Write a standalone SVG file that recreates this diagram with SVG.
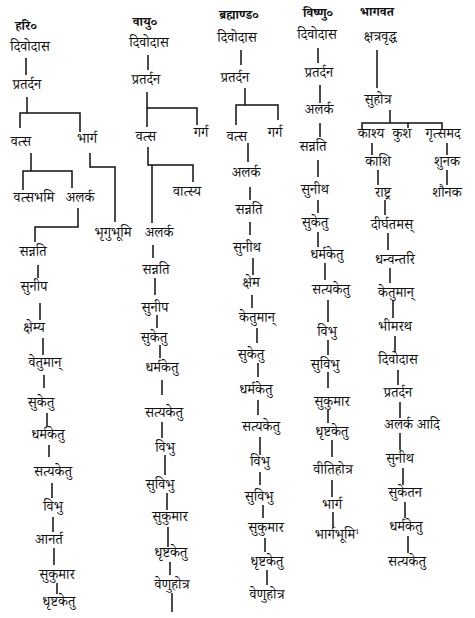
<svg xmlns="http://www.w3.org/2000/svg" width="475" height="618" viewBox="0 0 475 618">
<style>
text{font-family:"Noto Serif Devanagari","Noto Sans Devanagari","Lohit Devanagari","Noto Sans","DejaVu Sans",serif;font-size:14px;fill:#111;text-anchor:middle}
.h{font-size:13px;font-weight:bold}
#conn path{stroke:#111;stroke-width:1.5;fill:none}
</style>
<rect width="475" height="618" fill="#fff"/>
<g id="conn">
<path d="M26 58V75M27 97V113M20 128V113H80V132M31 153V171M23 190V171H72V188M90 153V167H115V222M78 208V227H35V242M38 265V278M40 303V320M43 338V355M44 375V388M47 413V427M49 445V457M52 483V498M53 517V532M54 548V565M57 583V594"/>
<path d="M148 55V70M147 92V108M147 127V108H197V125M148 147V165H193V182M152 165V223M153 245V258M155 278V295M157 315V328M160 345V358M162 380V395M162 422V438M165 455V475M167 493V510M168 527V547M170 562V575M172 593V612"/>
<path d="M241 50V65M245 88V105M236 125V105H278V120M248 143V162M250 187V200M250 222V235M253 258V275M252 295V308M257 328V343M258 363V377M258 400V415M260 437V455M260 472V485M263 505V518M265 538V552M267 570V585"/>
<path d="M318 48V63M320 85V103M320 123V137M318 160V177M318 200V213M318 232V247M325 263V280M328 300V322M328 340V355M328 372V388M328 410V423M332 440V457M332 480V497M333 512V527"/>
<path d="M377 50V88M390 110V123M362 130V123H442V130M408 123V128M372 143V155M447 143V155M378 170V185M447 170V185M385 200V215M388 233V250M390 268V283M393 300V318M395 336V352M398 370V385M400 402V418M400 433V450M403 468V485M405 502V518M408 536V553"/>
</g>
<g id="c1">
<g id="n1_0"><text class="h" x="26" y="30">हरि०</text></g>
<g id="n1_1"><text x="30" y="51">दिवोदास</text></g>
<g id="n1_2"><text x="27" y="89">प्रतर्दन</text></g>
<g id="n1_3"><text x="21" y="146">वत्स</text></g>
<g id="n1_4"><text x="87" y="143">भार्ग</text></g>
<g id="n1_5"><text x="34" y="202">वत्सभमि</text></g>
<g id="n1_6"><text x="80" y="202">अलर्क</text></g>
<g id="n1_7"><text x="113" y="237">भृगुभूमि</text></g>
<g id="n1_8"><text x="33" y="256">सन्नति</text></g>
<g id="n1_9"><text x="34" y="291">सुनीप</text></g>
<g id="n1_10"><text x="34" y="332">क्षेम्य</text></g>
<g id="n1_11"><text x="45" y="367">वेतुमान्</text></g>
<g id="n1_12"><text x="41" y="407">सुकेतु</text></g>
<g id="n1_13"><text x="48" y="439">धर्मकेतु</text></g>
<g id="n1_14"><text x="53" y="476">सत्यकेतु</text></g>
<g id="n1_15"><text x="53" y="511">विभु</text></g>
<g id="n1_16"><text x="49" y="544">आनर्त</text></g>
<g id="n1_17"><text x="57" y="579">सुकुमार</text></g>
<g id="n1_18"><text x="59" y="606">धृष्टकेतु</text></g>
</g>
<g id="c2">
<g id="n2_0"><text class="h" x="145" y="26">वायु०</text></g>
<g id="n2_1"><text x="149" y="47">दिवोदास</text></g>
<g id="n2_2"><text x="146" y="84">प्रतर्दन</text></g>
<g id="n2_3"><text x="146" y="141">वत्स</text></g>
<g id="n2_4"><text x="201" y="137">गर्ग</text></g>
<g id="n2_5"><text x="187" y="196">वात्स्य</text></g>
<g id="n2_6"><text x="159" y="237">अलर्क</text></g>
<g id="n2_7"><text x="156" y="274">सन्नति</text></g>
<g id="n2_8"><text x="155" y="312">सुनीप</text></g>
<g id="n2_9"><text x="154" y="342">सुकेतु</text></g>
<g id="n2_10"><text x="162" y="372">धर्मकेतु</text></g>
<g id="n2_11"><text x="164" y="417">सत्यकेतु</text></g>
<g id="n2_12"><text x="165" y="452">विभु</text></g>
<g id="n2_13"><text x="160" y="489">सुविभु</text></g>
<g id="n2_14"><text x="170" y="521">सुकुमार</text></g>
<g id="n2_15"><text x="171" y="557">धृष्टकेतु</text></g>
<g id="n2_16"><text x="172" y="589">वेणुहोत्र</text></g>
</g>
<g id="c3">
<g id="n3_0"><text class="h" x="239" y="19">ब्रह्माण्ड०</text></g>
<g id="n3_1"><text x="237" y="42">दिवोदास</text></g>
<g id="n3_2"><text x="235" y="82">प्रतर्दन</text></g>
<g id="n3_3"><text x="237" y="141">वत्स</text></g>
<g id="n3_4"><text x="275" y="137">गर्ग</text></g>
<g id="n3_5"><text x="246" y="177">अलर्क</text></g>
<g id="n3_6"><text x="249" y="214">सन्नति</text></g>
<g id="n3_7"><text x="247" y="252">सुनीथ</text></g>
<g id="n3_8"><text x="251" y="287">क्षेम</text></g>
<g id="n3_9"><text x="257" y="322">केतुमान्</text></g>
<g id="n3_10"><text x="251" y="359">सुकेतु</text></g>
<g id="n3_11"><text x="256" y="394">धर्मकेतु</text></g>
<g id="n3_12"><text x="261" y="431">सत्यकेतु</text></g>
<g id="n3_13"><text x="260" y="466">विभु</text></g>
<g id="n3_14"><text x="259" y="501">सुविभु</text></g>
<g id="n3_15"><text x="266" y="532">सुकुमार</text></g>
<g id="n3_16"><text x="267" y="566">धृष्टकेतु</text></g>
<g id="n3_17"><text x="267" y="599">वेणुहोत्र</text></g>
</g>
<g id="c4">
<g id="n4_0"><text class="h" x="318" y="17">विष्णु०</text></g>
<g id="n4_1"><text x="317" y="39">दिवोदास</text></g>
<g id="n4_2"><text x="319" y="77">प्रतर्दन</text></g>
<g id="n4_3"><text x="319" y="114">अलर्क</text></g>
<g id="n4_4"><text x="313" y="151">सन्नति</text></g>
<g id="n4_5"><text x="315" y="194">सुनीथ</text></g>
<g id="n4_6"><text x="315" y="227">सुकेतु</text></g>
<g id="n4_7"><text x="327" y="259">धर्मकेतु</text></g>
<g id="n4_8"><text x="331" y="294">सत्यकेतु</text></g>
<g id="n4_9"><text x="327" y="336">विभु</text></g>
<g id="n4_10"><text x="325" y="369">सुविभु</text></g>
<g id="n4_11"><text x="332" y="406">सुकुमार</text></g>
<g id="n4_12"><text x="332" y="436">धृष्टकेतु</text></g>
<g id="n4_13"><text x="333" y="474">वीतिहोत्र</text></g>
<g id="n4_14"><text x="332" y="509">भार्ग</text></g>
<g id="n4_15"><text x="337" y="539">भार्गभूमि<tspan font-size="7" dy="-5">1</tspan></text></g>
</g>
<g id="c5">
<g id="n5_0"><text class="h" x="377" y="16">भागवत</text></g>
<g id="n5_1"><text x="380" y="41">क्षत्रवृद्ध</text></g>
<g id="n5_2"><text x="378" y="104">सुहोत्र</text></g>
<g id="n5_3"><text x="371" y="138">काश्य</text></g>
<g id="n5_4"><text x="402" y="138">कुश</text></g>
<g id="n5_5"><text x="443" y="138">गृत्समद</text></g>
<g id="n5_6"><text x="378" y="166">काशि</text></g>
<g id="n5_7"><text x="447" y="166">शुनक</text></g>
<g id="n5_8"><text x="383" y="197">राष्ट्र</text></g>
<g id="n5_9"><text x="447" y="197">शौनक</text></g>
<g id="n5_10"><text x="392" y="229">दीर्घतमस्</text></g>
<g id="n5_11"><text x="395" y="264">धन्वन्तरि</text></g>
<g id="n5_12"><text x="396" y="297">केतुमान्</text></g>
<g id="n5_13"><text x="395" y="331">भीमरथ</text></g>
<g id="n5_14"><text x="398" y="364">दिवोदास</text></g>
<g id="n5_15"><text x="398" y="397">प्रतर्दन</text></g>
<g id="n5_16"><text x="412" y="429">अलर्क आदि</text></g>
<g id="n5_17"><text x="400" y="463">सुनीथ</text></g>
<g id="n5_18"><text x="405" y="497">सुकेतन</text></g>
<g id="n5_19"><text x="406" y="531">धर्मकेतु</text></g>
<g id="n5_20"><text x="407" y="566">सत्यकेतु</text></g>
</g>
</svg>
